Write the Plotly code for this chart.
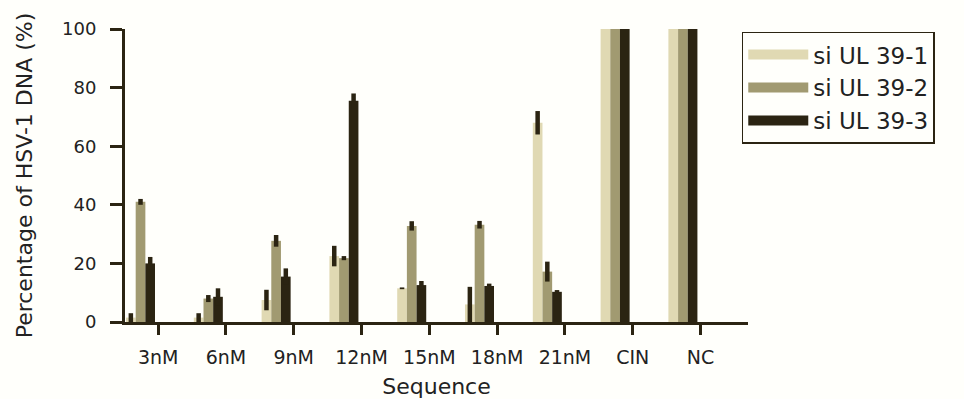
import plotly.graph_objects as go

categories = ["3nM", "6nM", "9nM", "12nM", "15nM", "18nM", "21nM", "CIN", "NC"]
series_names = ["si UL 39-1", "si UL 39-2", "si UL 39-3"]

ul39_1 = [1.5, 1.5, 7.5, 22.5, 11.5, 6.0, 68.0, 100, 100]
ul39_1_err = [1.5, 1.5, 3.5, 3.5, 0.3, 6.0, 4.0, 0, 0]
ul39_2 = [41.0, 8.0, 27.7, 21.8, 32.8, 33.2, 17.2, 100, 100]
ul39_2_err = [1.0, 1.2, 2.0, 0.7, 1.6, 1.3, 3.4, 0, 0]
ul39_3 = [20.0, 8.6, 15.5, 75.5, 12.6, 12.3, 10.3, 100, 100]
ul39_3_err = [2.2, 2.9, 2.8, 2.5, 1.4, 0.8, 0.6, 0, 0]

y_ticks = [0, 20, 40, 60, 80, 100]

colors = ["#e0d9b3", "#a19a71", "#2b2412"]
ink = "#2b2412"
text_color = "#222222"

x_pos = list(range(len(categories)))
tick_offset = 0.26

fig = go.Figure()
for name, vals, errs, col in zip(series_names,
                                 [ul39_1, ul39_2, ul39_3],
                                 [ul39_1_err, ul39_2_err, ul39_3_err],
                                 colors):
    fig.add_trace(go.Bar(
        x=x_pos, y=vals, name=name, marker=dict(color=col, line=dict(width=0)),
        error_y=dict(type="data", array=errs, visible=True, color=ink,
                     thickness=4.5, width=0),
        showlegend=False, legendgroup=name,
    ))
    fig.add_trace(go.Scatter(
        x=[None], y=[None], mode="lines", name=name, legendgroup=name,
        line=dict(color=col, width=20), showlegend=True,
    ))

fig.update_layout(
    width=964, height=399,
    margin=dict(l=125, r=216, t=29, b=77),
    paper_bgcolor="#fffffb", plot_bgcolor="#fffffb",
    barmode="group", bargap=0.572, bargroupgap=0,
    font=dict(family="DejaVu Sans", color=text_color, size=18),
    legend=dict(
        x=0.99, y=0.991, xanchor="left", yanchor="top",
        bordercolor=ink, borderwidth=1.5, bgcolor="#fffffb",
        font=dict(family="DejaVu Sans", size=23, color=text_color),
        itemwidth=60, tracegroupgap=0,
    ),
    xaxis=dict(
        range=[-0.229, 8.96],
        tickmode="array",
        tickvals=[i + tick_offset for i in x_pos],
        ticktext=categories,
        showline=True, linecolor=ink, linewidth=3,
        ticks="outside", ticklen=10, tickwidth=2.5, tickcolor=ink,
        showgrid=False, zeroline=False,
        tickfont=dict(size=19),
        ticklabelstandoff=6,
        automargin=False,
        title=dict(text="Sequence", font=dict(size=22), standoff=15),
    ),
    yaxis=dict(
        range=[0, 100],
        tickmode="array", tickvals=y_ticks,
        ticktext=[str(v) for v in y_ticks],
        showline=True, linecolor=ink, linewidth=3,
        ticks="outside", ticklen=12, tickwidth=3, tickcolor=ink,
        showgrid=False, zeroline=False,
        tickfont=dict(size=18),
        ticklabelstandoff=10,
        automargin=False,
        title=dict(text="Percentage of HSV-1 DNA (%)", font=dict(size=22), standoff=24),
    ),
)

fig.write_html("out.html")
